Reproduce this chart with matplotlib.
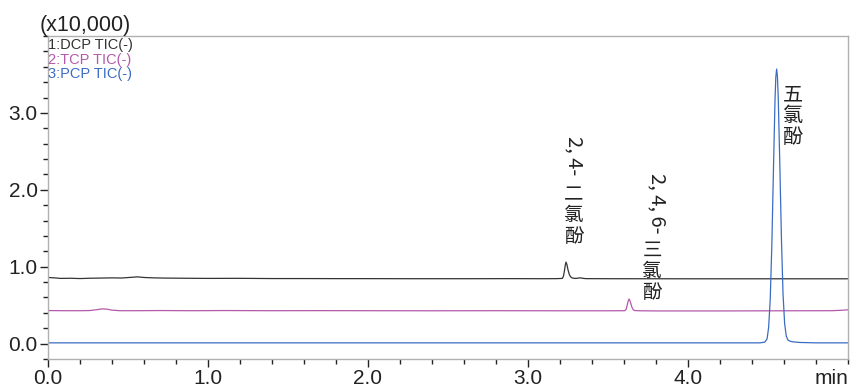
import matplotlib
matplotlib.use("Agg")
import matplotlib.pyplot as plt
from matplotlib.ticker import MultipleLocator, FixedLocator

# ---- data (time in min, intensity in x10,000) ----
dcp_t = [0.00, 0.04, 0.08, 0.14, 0.20, 0.26, 0.32, 0.40, 0.46, 0.52, 0.56, 0.60, 0.66,
         0.74, 0.85, 1.00, 1.20, 1.40, 1.60, 1.80, 2.00, 2.30, 2.60, 2.90, 3.10, 3.18,
         3.215, 3.222, 3.228, 3.233, 3.2375, 3.243, 3.250, 3.258, 3.266, 3.275, 3.29,
         3.31, 3.325, 3.34, 3.36, 3.50, 4.00, 4.50, 5.00]
dcp_y = [0.860, 0.855, 0.848, 0.850, 0.846, 0.850, 0.852, 0.855, 0.853, 0.862, 0.868,
         0.860, 0.855, 0.852, 0.850, 0.848, 0.849, 0.846, 0.846, 0.845, 0.845, 0.844,
         0.844, 0.845, 0.844, 0.845, 0.848, 0.880, 0.950, 1.020, 1.060, 1.030, 0.960,
         0.900, 0.870, 0.855, 0.848, 0.850, 0.856, 0.850, 0.845, 0.844, 0.843, 0.843,
         0.843]

tcp_t = [0.00, 0.10, 0.20, 0.26, 0.30, 0.34, 0.37, 0.40, 0.45, 0.55, 0.70, 0.90, 1.10,
         1.40, 1.70, 2.00, 2.40, 2.80, 3.20, 3.50, 3.605, 3.614, 3.621, 3.627, 3.631,
         3.636, 3.643, 3.650, 3.658, 3.667, 3.70, 3.80, 4.20, 4.60, 4.90, 4.97, 5.00]
tcp_y = [0.430, 0.428, 0.428, 0.430, 0.440, 0.452, 0.448, 0.435, 0.428, 0.428, 0.430,
         0.428, 0.430, 0.428, 0.429, 0.428, 0.427, 0.428, 0.427, 0.427, 0.428, 0.450,
         0.510, 0.560, 0.580, 0.565, 0.520, 0.470, 0.440, 0.430, 0.427, 0.425, 0.425,
         0.427, 0.428, 0.435, 0.440]

pcp_t = [0.00, 1.00, 2.00, 3.00, 4.00, 4.45, 4.48, 4.494, 4.504, 4.514, 4.524, 4.534,
         4.544, 4.549, 4.554, 4.559, 4.564, 4.574, 4.584, 4.594, 4.604, 4.614, 4.625,
         4.64, 4.66, 4.70, 4.80, 5.00]
pcp_y = [0.010, 0.010, 0.010, 0.010, 0.010, 0.010, 0.020, 0.060, 0.210, 0.580, 1.280,
         2.260, 3.180, 3.470, 3.570, 3.470, 3.200, 2.320, 1.360, 0.640, 0.260, 0.100,
         0.045, 0.030, 0.022, 0.015, 0.010, 0.010]

legend_labels = ["1:DCP TIC(-)", "2:TCP TIC(-)", "3:PCP TIC(-)"]
colors = ["#333333", "#b45aab", "#3b6cc4"]
x_ticks = [0.0, 1.0, 2.0, 3.0, 4.0]
x_ticklabels = ["0.0", "1.0", "2.0", "3.0", "4.0"]
y_ticks = [0.0, 1.0, 2.0, 3.0]
y_ticklabels = ["0.0", "1.0", "2.0", "3.0"]

W, H = 850, 388
fig = plt.figure(figsize=(W / 100, H / 100), dpi=100)
ax = fig.add_axes([48 / W, (H - 359) / H, 800 / W, 323 / H])

for t, y, c in zip([dcp_t, tcp_t, pcp_t], [dcp_y, tcp_y, pcp_y], colors):
    ax.plot(t, y, color=c, lw=0.9)

ax.set_xlim(0, 5.0)
ax.set_ylim(-0.2, 4.0)
ax.xaxis.set_major_locator(FixedLocator(x_ticks))
ax.set_xticklabels(x_ticklabels)
ax.xaxis.set_minor_locator(MultipleLocator(0.2))
ax.yaxis.set_major_locator(FixedLocator(y_ticks))
ax.set_yticklabels(y_ticklabels)
ax.yaxis.set_minor_locator(MultipleLocator(0.2))

latin = ["Liberation Sans", "DejaVu Sans"]
for lab in ax.get_xticklabels() + ax.get_yticklabels():
    lab.set_fontfamily(latin)
    lab.set_fontsize(15)
    lab.set_color("#222222")
ax.tick_params(which="major", direction="out", length=6, width=1, color="#222222", pad=1.5)
ax.tick_params(which="minor", direction="out", length=3.5, width=1, color="#222222")
for s in ax.spines.values():
    s.set_color("#b0b0b0")
    s.set_linewidth(1)

# unit label
fig.text(40 / W, (H - 31) / H, "(x10,000)", family=latin,
         fontsize=15.5, color="#222222", ha="left", va="baseline")
# min label
fig.text(848 / W, (H - 384) / H, "min", family=latin,
         fontsize=15, color="#222222", ha="right", va="baseline")

# trace legend
for i, (lab, c) in enumerate(zip(legend_labels, colors)):
    fig.text(48 / W, (H - (49 + 14.7 * i)) / H, lab, family=latin,
             fontsize=10.5, color=c, ha="left", va="baseline")

# peak annotations (vertical text)
cjk = ["Noto Sans CJK SC", "DejaVu Sans"]
def vlabel(xd, y_rot, y_chars, x_chars, rot_text, chars):
    ax.text(xd, y_rot, rot_text, rotation=-90, family=cjk, fontsize=14.5, weight="light",
            ha="center", va="top", color="#222222")
    ax.text(x_chars, y_chars, "\n".join(chars), family=cjk, fontsize=14, weight="light",
            ha="center", va="top", linespacing=1.0, color="#222222")

vlabel(3.29, 2.70, 2.07, 3.285, "2, 4-", "二氯酚")
vlabel(3.806, 2.22, 1.35, 3.775, "2, 4, 6-", "三氯酚")
ax.text(4.655, 3.37, "\n".join("五氯酚"), family=cjk, fontsize=14.5, weight="light",
        ha="center", va="top", linespacing=1.02, color="#222222")

fig.savefig("out.png", dpi=100)
